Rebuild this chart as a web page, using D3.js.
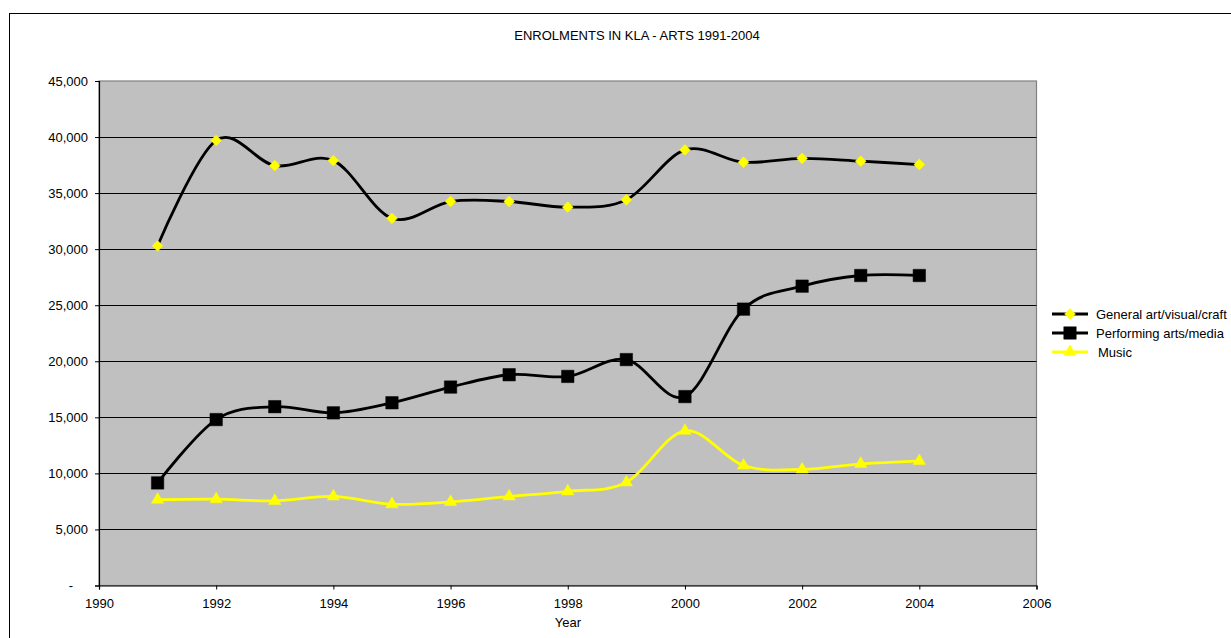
<!DOCTYPE html>
<html>
<head>
<meta charset="utf-8">
<script src="https://cdn.jsdelivr.net/npm/d3@7"></script>
<style>
  html, body { margin: 0; padding: 0; background: #fff; }
  svg { display: block; font-family: Arial, "Liberation Sans", sans-serif; }
</style>
</head>
<body>
<svg id="chart" width="1231" height="638"></svg>
<script>
// Enrolment figures by year for each arts learning area
const years = [1991, 1992, 1993, 1994, 1995, 1996, 1997, 1998, 1999, 2000, 2001, 2002, 2003, 2004];
const generalArt = [30300, 39700, 37450, 37900, 32750, 34250, 34250, 33750, 34400, 38850, 37750, 38100, 37850, 37550];
const performingArts = [9150, 14800, 15950, 15400, 16300, 17700, 18800, 18650, 20150, 16850, 24650, 26700, 27650, 27650];
const music = [7650, 7700, 7550, 7950, 7250, 7450, 7950, 8400, 9200, 13800, 10700, 10350, 10850, 11100];

const yTicks = [0, 5000, 10000, 15000, 20000, 25000, 30000, 35000, 40000, 45000];
const xTicks = [1990, 1992, 1994, 1996, 1998, 2000, 2002, 2004, 2006];

const title = "ENROLMENTS IN KLA - ARTS 1991-2004";
const xTitle = "Year";

const series = [
  { name: "General art/visual/craft", values: generalArt, line: "#000000", marker: "diamond", fill: "#FFFF00" },
  { name: "Performing arts/media", values: performingArts, line: "#000000", marker: "square", fill: "#000000" },
  { name: "Music", values: music, line: "#FFFF00", marker: "triangle", fill: "#FFFF00" }
];

const FONT = 13;
const svg = d3.select("#chart");
const plot = { left: 99, right: 1036.5, top: 81, bottom: 585.5 };

const x = d3.scaleLinear().domain([1990, 2006]).range([plot.left, plot.right]);
const y = d3.scaleLinear().domain([0, 45000]).range([plot.bottom, plot.top]);

// Outer chart frame
svg.append("rect")
  .attr("x", 9.5).attr("y", 13.5)
  .attr("width", 1240).attr("height", 640)
  .attr("fill", "#fff").attr("stroke", "#000").attr("stroke-width", 1);

// Plot background
svg.append("rect")
  .attr("x", plot.left).attr("y", plot.top)
  .attr("width", plot.right - plot.left).attr("height", plot.bottom - plot.top)
  .attr("fill", "#C0C0C0").attr("stroke", "#808080").attr("stroke-width", 1.2);

// Horizontal gridlines
svg.append("g")
  .selectAll("line")
  .data(yTicks.filter(d => d > 0 && d < 45000))
  .join("line")
  .attr("x1", plot.left).attr("x2", plot.right)
  .attr("y1", d => Math.round(y(d)) + 0.5).attr("y2", d => Math.round(y(d)) + 0.5)
  .attr("stroke", "#000").attr("stroke-width", 1);

// Y axis
const fmt = d3.format(",");
const yAxis = svg.append("g")
  .attr("transform", `translate(${plot.left},0)`)
  .call(d3.axisLeft(y).tickValues(yTicks).tickSize(4).tickPadding(7)
    .tickFormat(d => d === 0 ? "-" : fmt(d)));
yAxis.select(".domain").attr("stroke", "#000").attr("stroke-width", 1.2);
yAxis.selectAll(".tick line").attr("stroke", "#000");
yAxis.selectAll(".tick text")
  .attr("font-size", FONT).attr("fill", "#000")
  .attr("font-family", "Arial, 'Liberation Sans', sans-serif");
yAxis.selectAll(".tick text").filter(d => d === 0).attr("dx", -15);

// X axis
const xAxis = svg.append("g")
  .attr("transform", `translate(0,${plot.bottom})`)
  .call(d3.axisBottom(x).tickValues(xTicks).tickSize(4).tickPadding(9).tickFormat(d3.format("d")));
xAxis.select(".domain").attr("stroke", "#000").attr("stroke-width", 1.2);
xAxis.selectAll(".tick line").attr("stroke", "#000");
xAxis.selectAll(".tick text")
  .attr("font-size", FONT).attr("fill", "#000")
  .attr("font-family", "Arial, 'Liberation Sans', sans-serif");

// Titles
svg.append("text")
  .attr("x", 637).attr("y", 40)
  .attr("text-anchor", "middle").attr("font-size", FONT).attr("fill", "#000")
  .text(title);
svg.append("text")
  .attr("x", 568).attr("y", 627)
  .attr("text-anchor", "middle").attr("font-size", FONT).attr("fill", "#000")
  .text(xTitle);

// Marker shapes
const markerPath = {
  diamond: d3.symbol().type(d3.symbolDiamond2).size(75)(),
  square: d3.symbol().type(d3.symbolSquare).size(155)(),
  triangle: d3.symbol().type(d3.symbolTriangle).size(66)()
};

const line = d3.line()
  .x((d, i) => x(years[i]))
  .y(d => y(d))
  .curve(d3.curveCardinal.tension(0));

const seriesG = svg.append("g");
series.forEach(s => {
  seriesG.append("path")
    .attr("d", line(s.values))
    .attr("fill", "none")
    .attr("stroke", s.line)
    .attr("stroke-width", 2.8)
    .attr("stroke-linejoin", "round");
});
series.forEach(s => {
  seriesG.append("g")
    .selectAll("path")
    .data(s.values)
    .join("path")
    .attr("transform", (d, i) => `translate(${x(years[i])},${y(d)})`)
    .attr("d", markerPath[s.marker])
    .attr("fill", s.fill)
    .attr("stroke", s.fill)
    .attr("stroke-width", 0.5);
});

// Legend
const legend = svg.append("g");
series.forEach((s, i) => {
  const ly = 314 + i * 19;
  const g = legend.append("g").attr("transform", `translate(0,${ly})`);
  g.append("line")
    .attr("x1", 1052).attr("x2", 1088)
    .attr("y1", 0).attr("y2", 0)
    .attr("stroke", s.line).attr("stroke-width", 2.8);
  g.append("path")
    .attr("transform", "translate(1070,0)")
    .attr("d", markerPath[s.marker])
    .attr("fill", s.fill).attr("stroke", s.fill).attr("stroke-width", 0.5);
  g.append("text")
    .attr("x", s.marker === "triangle" ? 1098 : 1096).attr("y", 4.5)
    .attr("font-size", FONT).attr("fill", "#000")
    .text(s.name);
});
</script>
</body>
</html>
